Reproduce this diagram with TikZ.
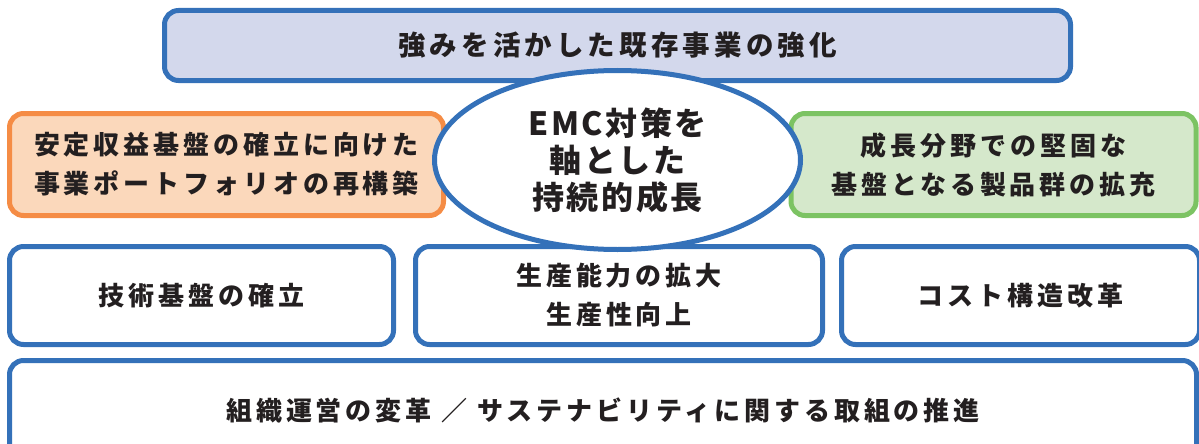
\documentclass[tikz,border=0pt]{standalone}
\usepackage{fontspec}
\newfontfamily\jp{Noto Sans CJK JP}[LetterSpace=15]
\newfontfamily\jpe{Noto Sans CJK JP}[LetterSpace=8]
\usetikzlibrary{shapes.geometric}
\definecolor{bblue}{HTML}{3471B9}
\definecolor{lav}{HTML}{D3D8EC}
\definecolor{oline}{HTML}{F58C45}
\definecolor{ofill}{HTML}{FBD8BB}
\definecolor{gline}{HTML}{7CC363}
\definecolor{gfill}{HTML}{D5E8CB}
\definecolor{ink}{HTML}{231F20}
\tikzset{
  box/.style={draw=bblue, line width=5pt, rounded corners=14pt, inner sep=0pt,
    align=center, text=ink, font=\jp\bfseries\fontsize{26}{39}\selectfont, fill=white},
  topbox/.style={box, fill=lav, font=\jp\bfseries\fontsize{27.5}{40}\selectfont},
  obox/.style={box, draw=oline, fill=ofill},
  gbox/.style={box, draw=gline, fill=gfill},
  core/.style={ellipse, draw=bblue, line width=5pt, fill=white, inner sep=0pt,
    align=center, text=ink, font=\jpe\bfseries\fontsize{32}{37}\selectfont}
}
\begin{document}
\begin{tikzpicture}[x=1pt,y=-1pt]
\useasboundingbox (0,0) rectangle (1199,444);
\clip (0,0) rectangle (1199,444);
\node[topbox, minimum width=906, minimum height=70] (top) at (617.5,45.5) {強みを活かした既存事業の強化};
\node[obox, minimum width=434, minimum height=102] (left) at (226.5,164.5) {安定収益基盤の確立に向けた\\事業ポートフォリオの再構築};
\node[gbox, minimum width=405, minimum height=102] (right) at (993.5,164.5) {成長分野での堅固な\\基盤となる製品群の拡充};
\node[box, minimum width=384, minimum height=98] (tech) at (201.5,295.5) {技術基盤の確立};
\node[box, minimum width=407, minimum height=98] (prod) at (619,295.5) {生産能力の拡大\\生産性向上};
\node[box, minimum width=358, minimum height=98] (cost) at (1020.5,295.5) {コスト構造改革};
\node[box, minimum width=1187, minimum height=100] (base) at (603,410.5) {組織運営の変革 ／ サステナビリティに関する取組の推進};
\node[core, minimum width=366, minimum height=179] (emc) at (617.5,160) {EMC対策を\\軸とした\\持続的成長};
\end{tikzpicture}
\end{document}
